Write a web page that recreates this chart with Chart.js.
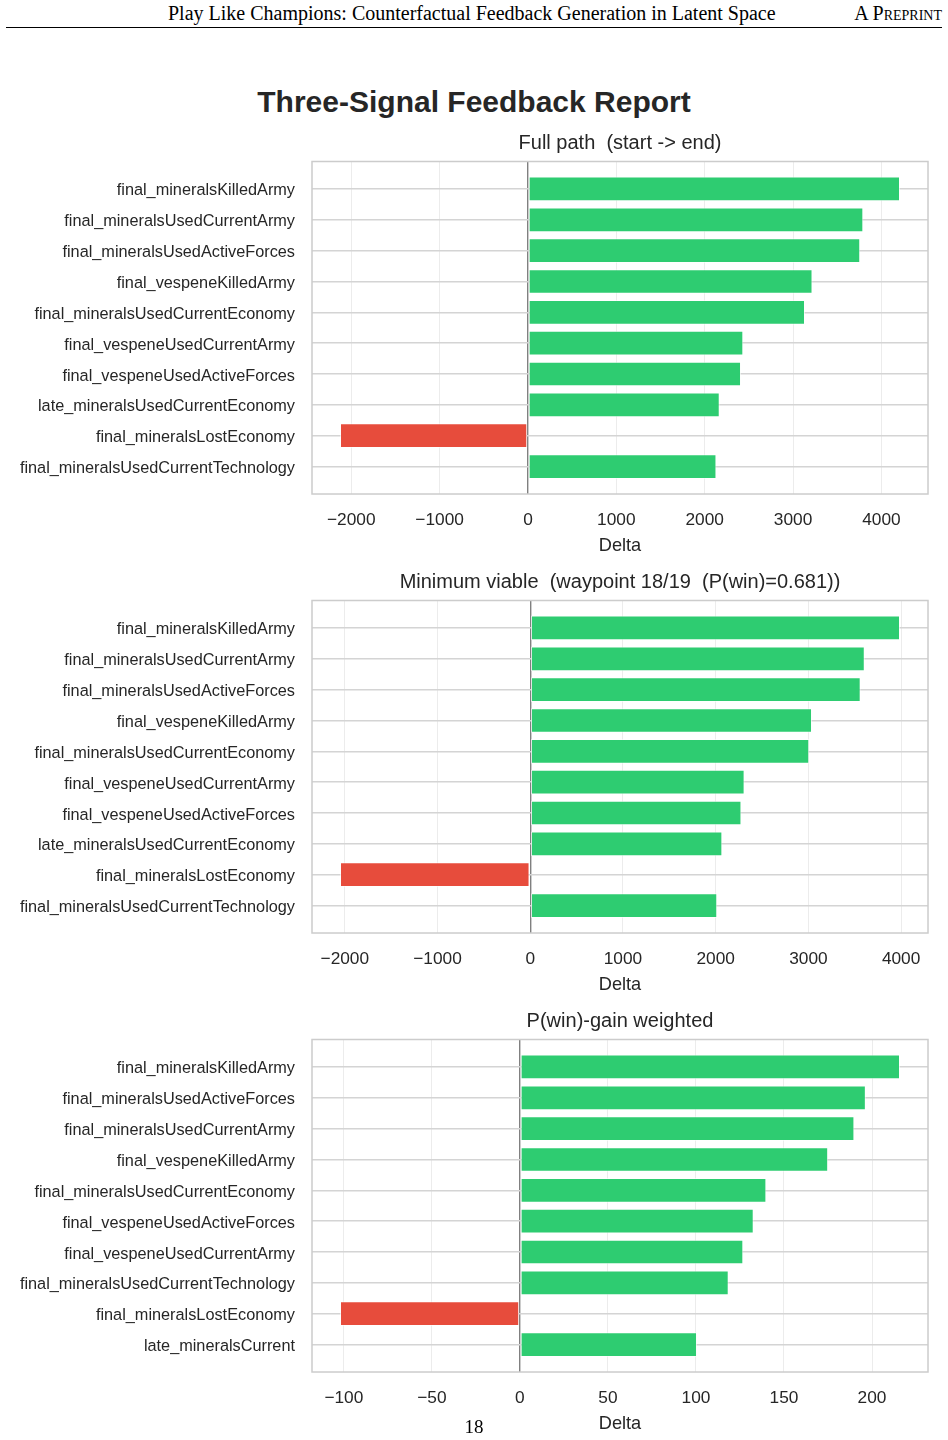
<!DOCTYPE html>
<html>
<head>
<meta charset="utf-8">
<script src="https://cdn.jsdelivr.net/npm/chart.js@4/dist/chart.umd.min.js"></script>
<style>
  body { margin: 0; background: #fff; }
  #page { position: relative; width: 948px; height: 1440px; overflow: hidden; }
  .hdr { position: absolute; font-family: "Liberation Serif", "Times New Roman", serif; font-size: 20px; line-height: 23px; color: #000; white-space: nowrap; }
  #rule { position: absolute; left: 6px; top: 27px; width: 936px; height: 1px; background: #000; }
  #maintitle { position: absolute; left: 0; width: 948px; top: 87px; line-height: 30px; text-align: center; font-family: "Liberation Sans", Arial, sans-serif; font-weight: bold; font-size: 30px; color: #262626; }
  canvas { position: absolute; left: 0; }
</style>
</head>
<body>
<div id="page">
  <div class="hdr" style="left:168px; top:2px;">Play Like Champions: Counterfactual Feedback Generation in Latent Space</div>
  <div class="hdr" style="right:6px; top:2px; font-variant: small-caps;">A Preprint</div>
  <div id="rule"></div>
  <div id="maintitle">Three-Signal Feedback Report</div>
  <canvas id="c1" width="948" height="429" style="top:131px;"></canvas>
  <canvas id="c2" width="948" height="429" style="top:570px;"></canvas>
  <canvas id="c3" width="948" height="429" style="top:1009px;"></canvas>
  <div class="hdr" style="left:0; width:948px; text-align:center; top:1415px; font-size:19px;">18</div>
</div>
<script>
// panel 1: full path
var fullLabels = ['final_mineralsKilledArmy', 'final_mineralsUsedCurrentArmy', 'final_mineralsUsedActiveForces',
  'final_vespeneKilledArmy', 'final_mineralsUsedCurrentEconomy', 'final_vespeneUsedCurrentArmy',
  'final_vespeneUsedActiveForces', 'late_mineralsUsedCurrentEconomy', 'final_mineralsLostEconomy',
  'final_mineralsUsedCurrentTechnology'];
var fullValues = [4210, 3795, 3760, 3220, 3135, 2437, 2411, 2170, -2127, 2133];
var fullTicks = [-2000, -1000, 0, 1000, 2000, 3000, 4000];

// panel 2: minimum viable
var minLabels = ['final_mineralsKilledArmy', 'final_mineralsUsedCurrentArmy', 'final_mineralsUsedActiveForces',
  'final_vespeneKilledArmy', 'final_mineralsUsedCurrentEconomy', 'final_vespeneUsedCurrentArmy',
  'final_vespeneUsedActiveForces', 'late_mineralsUsedCurrentEconomy', 'final_mineralsLostEconomy',
  'final_mineralsUsedCurrentTechnology'];
var minValues = [3988, 3608, 3564, 3039, 3009, 2312, 2278, 2072, -2052, 2017];
var minTicks = [-2000, -1000, 0, 1000, 2000, 3000, 4000];

// panel 3: P(win)-gain weighted
var winLabels = ['final_mineralsKilledArmy', 'final_mineralsUsedActiveForces', 'final_mineralsUsedCurrentArmy',
  'final_vespeneKilledArmy', 'final_mineralsUsedCurrentEconomy', 'final_vespeneUsedActiveForces',
  'final_vespeneUsedCurrentArmy', 'final_mineralsUsedCurrentTechnology', 'final_mineralsLostEconomy',
  'late_mineralsCurrent'];
var winValues = [215.9, 196.5, 190.0, 175.1, 140.0, 132.8, 126.9, 118.6, -102.2, 100.6];
var winTicks = [-100, -50, 0, 50, 100, 150, 200];

var GREEN = '#2ecc71';
var RED = '#e74c3c';
var TEXT = '#262626';
var FONT = '"Liberation Sans", Arial, sans-serif';

// light frame round the plot area, like the seaborn spines
var framePlugin = {
  id: 'frame',
  afterDatasetsDraw: function(chart) {
    var a = chart.chartArea, ctx = chart.ctx;
    ctx.save();
    ctx.strokeStyle = '#cccccc';
    ctx.lineWidth = 1.5;
    ctx.strokeRect(a.left, a.top, a.right - a.left, a.bottom - a.top);
    ctx.restore();
  }
};

function makeChart(id, labels, values, tickValues, title) {
  var lo = Math.min.apply(null, values), hi = Math.max.apply(null, values);
  var pad = 0.05 * (hi - lo);
  var yLo = -0.4, yHi = labels.length - 1 + 0.4;
  var yPad = 0.05 * (yHi - yLo);

  return new Chart(document.getElementById(id), {
    type: 'bar',
    data: {
      datasets: [{
        data: values.map(function(v, i) { return { x: v, y: i }; }),
        backgroundColor: values.map(function(v) { return v < 0 ? RED : GREEN; }),
        borderColor: 'rgba(255,255,255,0.6)',
        borderWidth: 1,
        borderSkipped: false,
        barPercentage: 0.8,
        categoryPercentage: 1
      }]
    },
    options: {
      indexAxis: 'y',
      responsive: false,
      animation: false,
      layout: { padding: { right: 20 } },
      plugins: {
        legend: { display: false },
        tooltip: { enabled: false },
        title: {
          display: true,
          fullSize: false,
          text: title,
          color: TEXT,
          font: { family: FONT, size: 20, weight: 'normal' },
          padding: { top: 0, bottom: 6.5 }
        }
      },
      scales: {
        x: {
          type: 'linear',
          bounds: 'data',
          min: lo - pad,
          max: hi + pad,
          border: { display: false },
          grid: {
            drawTicks: false,
            color: function(ctx) { return ctx.tick && ctx.tick.value === 0 ? '#808080' : '#ececec'; },
            lineWidth: function(ctx) { return ctx.tick && ctx.tick.value === 0 ? 1.4 : 1; }
          },
          afterBuildTicks: function(axis) {
            axis.ticks = tickValues.map(function(v) { return { value: v }; });
          },
          ticks: {
            maxRotation: 0,
            autoSkip: false,
            color: TEXT,
            padding: 16,
            font: { family: FONT, size: 17.3 },
            callback: function(v) { return (v < 0 ? '\u2212' : '') + Math.abs(v); }
          },
          title: {
            display: true,
            text: 'Delta',
            color: TEXT,
            font: { family: FONT, size: 18.2 },
            padding: { top: 0, bottom: 3 }
          },
          afterFit: function(s) { s.height = 66; }
        },
        y: {
          type: 'linear',
          bounds: 'data',
          reverse: true,
          offset: false,
          min: yLo - yPad,
          max: yHi + yPad,
          border: { display: false },
          grid: { offset: false, drawTicks: false, color: '#d4d4d4', lineWidth: 1.5 },
          afterBuildTicks: function(axis) {
            axis.ticks = labels.map(function(_, i) { return { value: i }; });
          },
          ticks: {
            autoSkip: false,
            color: TEXT,
            padding: 17,
            labelOffset: 2,
            font: { family: FONT, size: 16.3 },
            callback: function(v) { return labels[v]; }
          },
          afterFit: function(s) { s.width = 312; }
        }
      }
    },
    plugins: [framePlugin]
  });
}

makeChart('c1', fullLabels, fullValues, fullTicks, 'Full path  (start -> end)');
makeChart('c2', minLabels, minValues, minTicks, 'Minimum viable  (waypoint 18/19  (P(win)=0.681))');
makeChart('c3', winLabels, winValues, winTicks, 'P(win)-gain weighted');
</script>
</body>
</html>
